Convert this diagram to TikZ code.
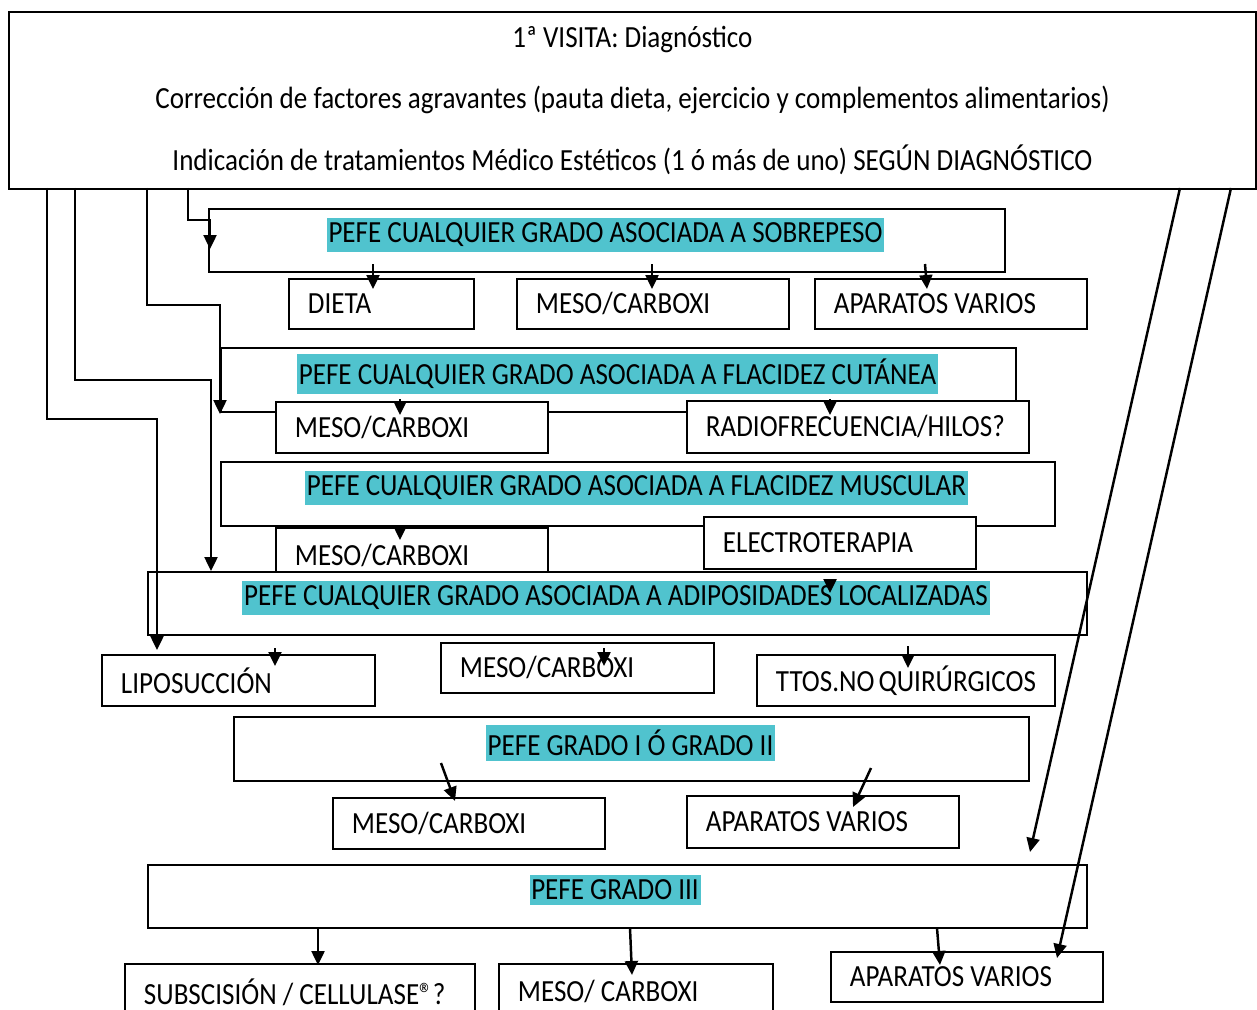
\documentclass[tikz,border=0pt]{standalone}
\usepackage{fontspec}
\setmainfont{Carlito}[FakeStretch=0.88]
\usetikzlibrary{arrows.meta,positioning}
\definecolor{hlteal}{RGB}{80,195,206}
\tikzset{
  every picture/.style={line width=1.1pt},
  box/.style={draw, fill=white, anchor=north west, inner sep=0pt},
  size/.style 2 args={minimum width={#1*0.02cm}, minimum height={#2*0.02cm}},
  leaf/.style 2 args={box, text width={(#1-38)*0.02cm}, minimum height={#2*0.02cm},
                      inner xsep={19*0.02cm}, align=flush left},
  hl/.style={fill=hlteal, inner xsep=1pt, inner ysep=3pt},
  link/.style={line width=1.4pt},
  arr/.style={link, -{Triangle[length=0.28cm, width=0.26cm]}},
  lbl/.style={font=\fontsize{17.5}{21}\selectfont},
}

\begin{document}
\begin{tikzpicture}[x=0.02cm, y=-0.02cm, lbl]
  \useasboundingbox (0,0) rectangle (1257,1010);
  % top box
  \node[box, size={1247}{177}, align=center, font=\fontsize{17.5}{35.2}\selectfont]
        (visita) at (8,11) {1ª VISITA: Diagnóstico\\
        Corrección de factores agravantes (pauta dieta, ejercicio y complementos alimentarios)\\
        Indicación de tratamientos Médico Estéticos (1 ó más de uno) SEGÚN DIAGNÓSTICO};

  % sobrepeso
  \node[box, size={796}{63}] (sob) at (208,208) {};
  \node[hl] (sobT) at (605.5,235) {PEFE CUALQUIER GRADO ASOCIADA A SOBREPESO};
  \node[leaf={185}{50}] (dieta) at (288,278) {DIETA};
  \node[leaf={272}{50}] (mesoA) at (516,278) {MESO/CARBOXI};
  \node[leaf={272}{50}] (aparA) at (814,278) {APARATOS VARIOS};

  % flacidez cutanea
  \node[box, size={795}{64}] (cut) at (220,347) {};
  \node[hl] (cutT) at (617.5,374) {PEFE CUALQUIER GRADO ASOCIADA A FLACIDEZ CUTÁNEA};
  \node[leaf={272}{51}] (mesoB) at (275,401) {MESO/CARBOXI};
  \node[leaf={342}{52}] (radio) at (686,400) {RADIOFRECUENCIA/HILOS?};

  % flacidez muscular
  \node[box, size={834}{64}] (mus) at (220,461) {};
  \node[hl] (musT) at (636.5,488) {PEFE CUALQUIER GRADO ASOCIADA A FLACIDEZ MUSCULAR};
  \node[leaf={272}{52}] (elec) at (703,516) {ELECTROTERAPIA};
  \node[leaf={272}{56}] (mesoC) at (275,527) {MESO/CARBOXI};

  % adiposidades
  \node[box, size={939}{63}] (adi) at (147,571) {};
  \node[hl] (adiT) at (616,598) {PEFE CUALQUIER GRADO ASOCIADA A ADIPOSIDADES LOCALIZADAS};
  \node[leaf={273}{51}] (lipo) at (101,654) {LIPOSUCCIÓN};
  \node[leaf={273}{50}] (mesoD) at (440,642) {MESO/CARBOXI};
  \node[leaf={298}{51}] (ttos) at (756,654) {TTOS.NO~QUIRÚRGICOS};

  % grado I o II
  \node[box, size={795}{64}] (gdos) at (233,716) {};
  \node[hl] (gdosT) at (630.5,743) {PEFE GRADO I Ó GRADO II};
  \node[leaf={272}{51}] (mesoE) at (332,797) {MESO/CARBOXI};
  \node[leaf={272}{52}] (aparE) at (686,795) {APARATOS VARIOS};

  % grado III
  \node[box, size={939}{63}] (gtres) at (147,864) {};
  \node[hl] (gtresT) at (615,890) {PEFE GRADO III};
  \node[leaf={350}{56}] (subs) at (124,963) {SUBSCISIÓN / CELLULASE®?};
  \node[leaf={274}{56}] (mesoF) at (498,963) {MESO/ CARBOXI};
  \node[leaf={272}{50}] (aparF) at (830,951) {APARATOS VARIOS};

  % connectors leaving the top box
  \coordinate (o1) at (188,188);  \coordinate (t1) at (210,249);
  \coordinate (o2) at (147,188);  \coordinate (t2) at (220,414);
  \coordinate (o3) at (75,188);   \coordinate (t3) at (211,571);
  \coordinate (o4) at (47,188);   \coordinate (t4) at (157,650);
  \coordinate (o5) at (1180,188); \coordinate (t5) at (1030,852);
  \coordinate (o6) at (1231,188); \coordinate (t6) at (1057,958);
  \draw[arr] (o1) -- ++(0,32) -| (t1);
  \draw[arr] (o2) -- ++(0,117) -| (t2);
  \draw[arr] (o3) -- ++(0,192) -| (t3);
  \draw[arr] (o4) -- ++(0,231) -| (t4);
  \draw[arr] (o5) -- (t5);
  \draw[arr] (o6) -- (t6);

  % short arrows into the boxes
  \foreach \sx/\sy/\ex/\ey [count=\i] in {373/264/373/289, 652/264/652/289,
      925/264/927/289, 400/399/400/415, 830/399/830/415, 400/525/400/540,
      830/579/830/593, 275/648/275/666, 604/648/604/666, 908/646/908/668,
      441/763/455/801, 871/768/853/807, 318/928/318/965, 630/928/632/975,
      937/928/940/965}
    \draw[arr] (\sx,\sy) coordinate (s\i) -- (\ex,\ey) coordinate (e\i);
\end{tikzpicture}
\end{document}
